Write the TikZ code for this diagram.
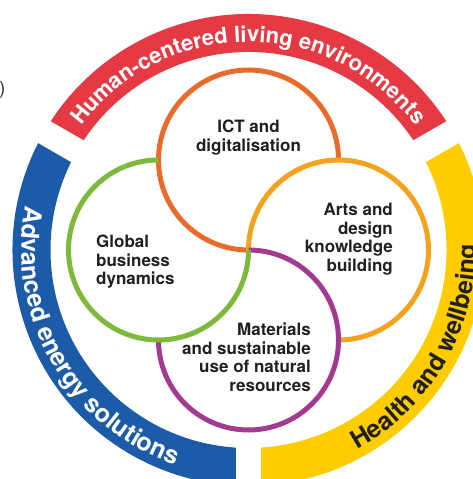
\documentclass[tikz,border=0pt]{standalone}
\usepackage{fontspec}
\setmainfont{TeX Gyre Heros}
\usetikzlibrary{calc,decorations.text}
\definecolor{bandred}{HTML}{E53A43}
\definecolor{bandblue}{HTML}{1C5BA8}
\definecolor{bandyellow}{HTML}{FFCC00}
\definecolor{ictorange}{HTML}{E96B2B}
\definecolor{artsorange}{HTML}{F5A31F}
\definecolor{matpurple}{HTML}{A23A8F}
\definecolor{globgreen}{HTML}{7DB93A}
\definecolor{inktext}{HTML}{231F20}
\def\bandsector[#1](#2:#3){\fill[#1] ($(C)+(#2:236)$) arc (#2:#3:236) -- ($(C)+(#3:198)$) arc (#3:#2:198) -- cycle;}
\def\bandtext[#1,#2](#3:#4:#5)#6{\path[decorate,decoration={text along path,text color=#1,text align=center,text={|\fontsize{#2}{#2}\selectfont\bfseries|#6}}] ($(C)+(#3:#5)$) arc (#3:#4:#5);}
\tikzset{
  areatext/.style={font=\bfseries\fontsize{17}{18.5}\selectfont, text=inktext, inner sep=0pt},
  petal/.style={line width=5pt}
}

\begin{document}
\begin{tikzpicture}[x=1pt,y=1pt]
			%%%%% START %%%%%
			\useasboundingbox (0,0) rectangle (472,479);
			\coordinate (C) at (248.5,229);
			
			% outer ring
			\bandsector[bandred](30:150)
			\bandsector[bandblue](150:270)
			\bandsector[bandyellow](270:390)
			\foreach \a in {30,150,270}
				\draw[white, line width=25pt] ($(C)+(\a:185)$) -- ($(C)+(\a:250)$);
			
			\bandtext[white,22](150:30:208){Human-centered living environments}
			\bandtext[white,25](150:270:227){Advanced energy solutions}
			\bandtext[inktext,25](270:390:227){Health and wellbeing}
			
			% pinwheel of four circles
			\draw[petal, ictorange] ($(C)+(90,90)$) arc (0:270:90);
			\draw[petal, artsorange] ($(C)+(90,-90)$) arc (270:540:90);
			\draw[petal, matpurple] ($(C)+(-90,-90)$) arc (180:450:90);
			\draw[petal, globgreen] ($(C)+(-90,90)$) arc (90:360:90);
			
			\node[areatext, align=center, anchor=north] (ict) at (248.5,359) {ICT and\\digitalisation};
			\node[areatext, align=right, anchor=north east] (arts) at (393,276) {Arts and\\design\\knowledge\\building};
			\node[areatext, align=left, anchor=north west] (global) at (96,244) {Global\\business\\dynamics};
			\node[areatext, align=right, anchor=north east] (materials) at (311,156) {Materials\\and sustainable\\use of natural\\resources};
			
			\node[font=\fontsize{18}{18}\selectfont, text=inktext, inner sep=0pt, anchor=east] (paren) at (5.5,389) {)};
			%%%%% END %%%%%
\end{tikzpicture}
\end{document}
